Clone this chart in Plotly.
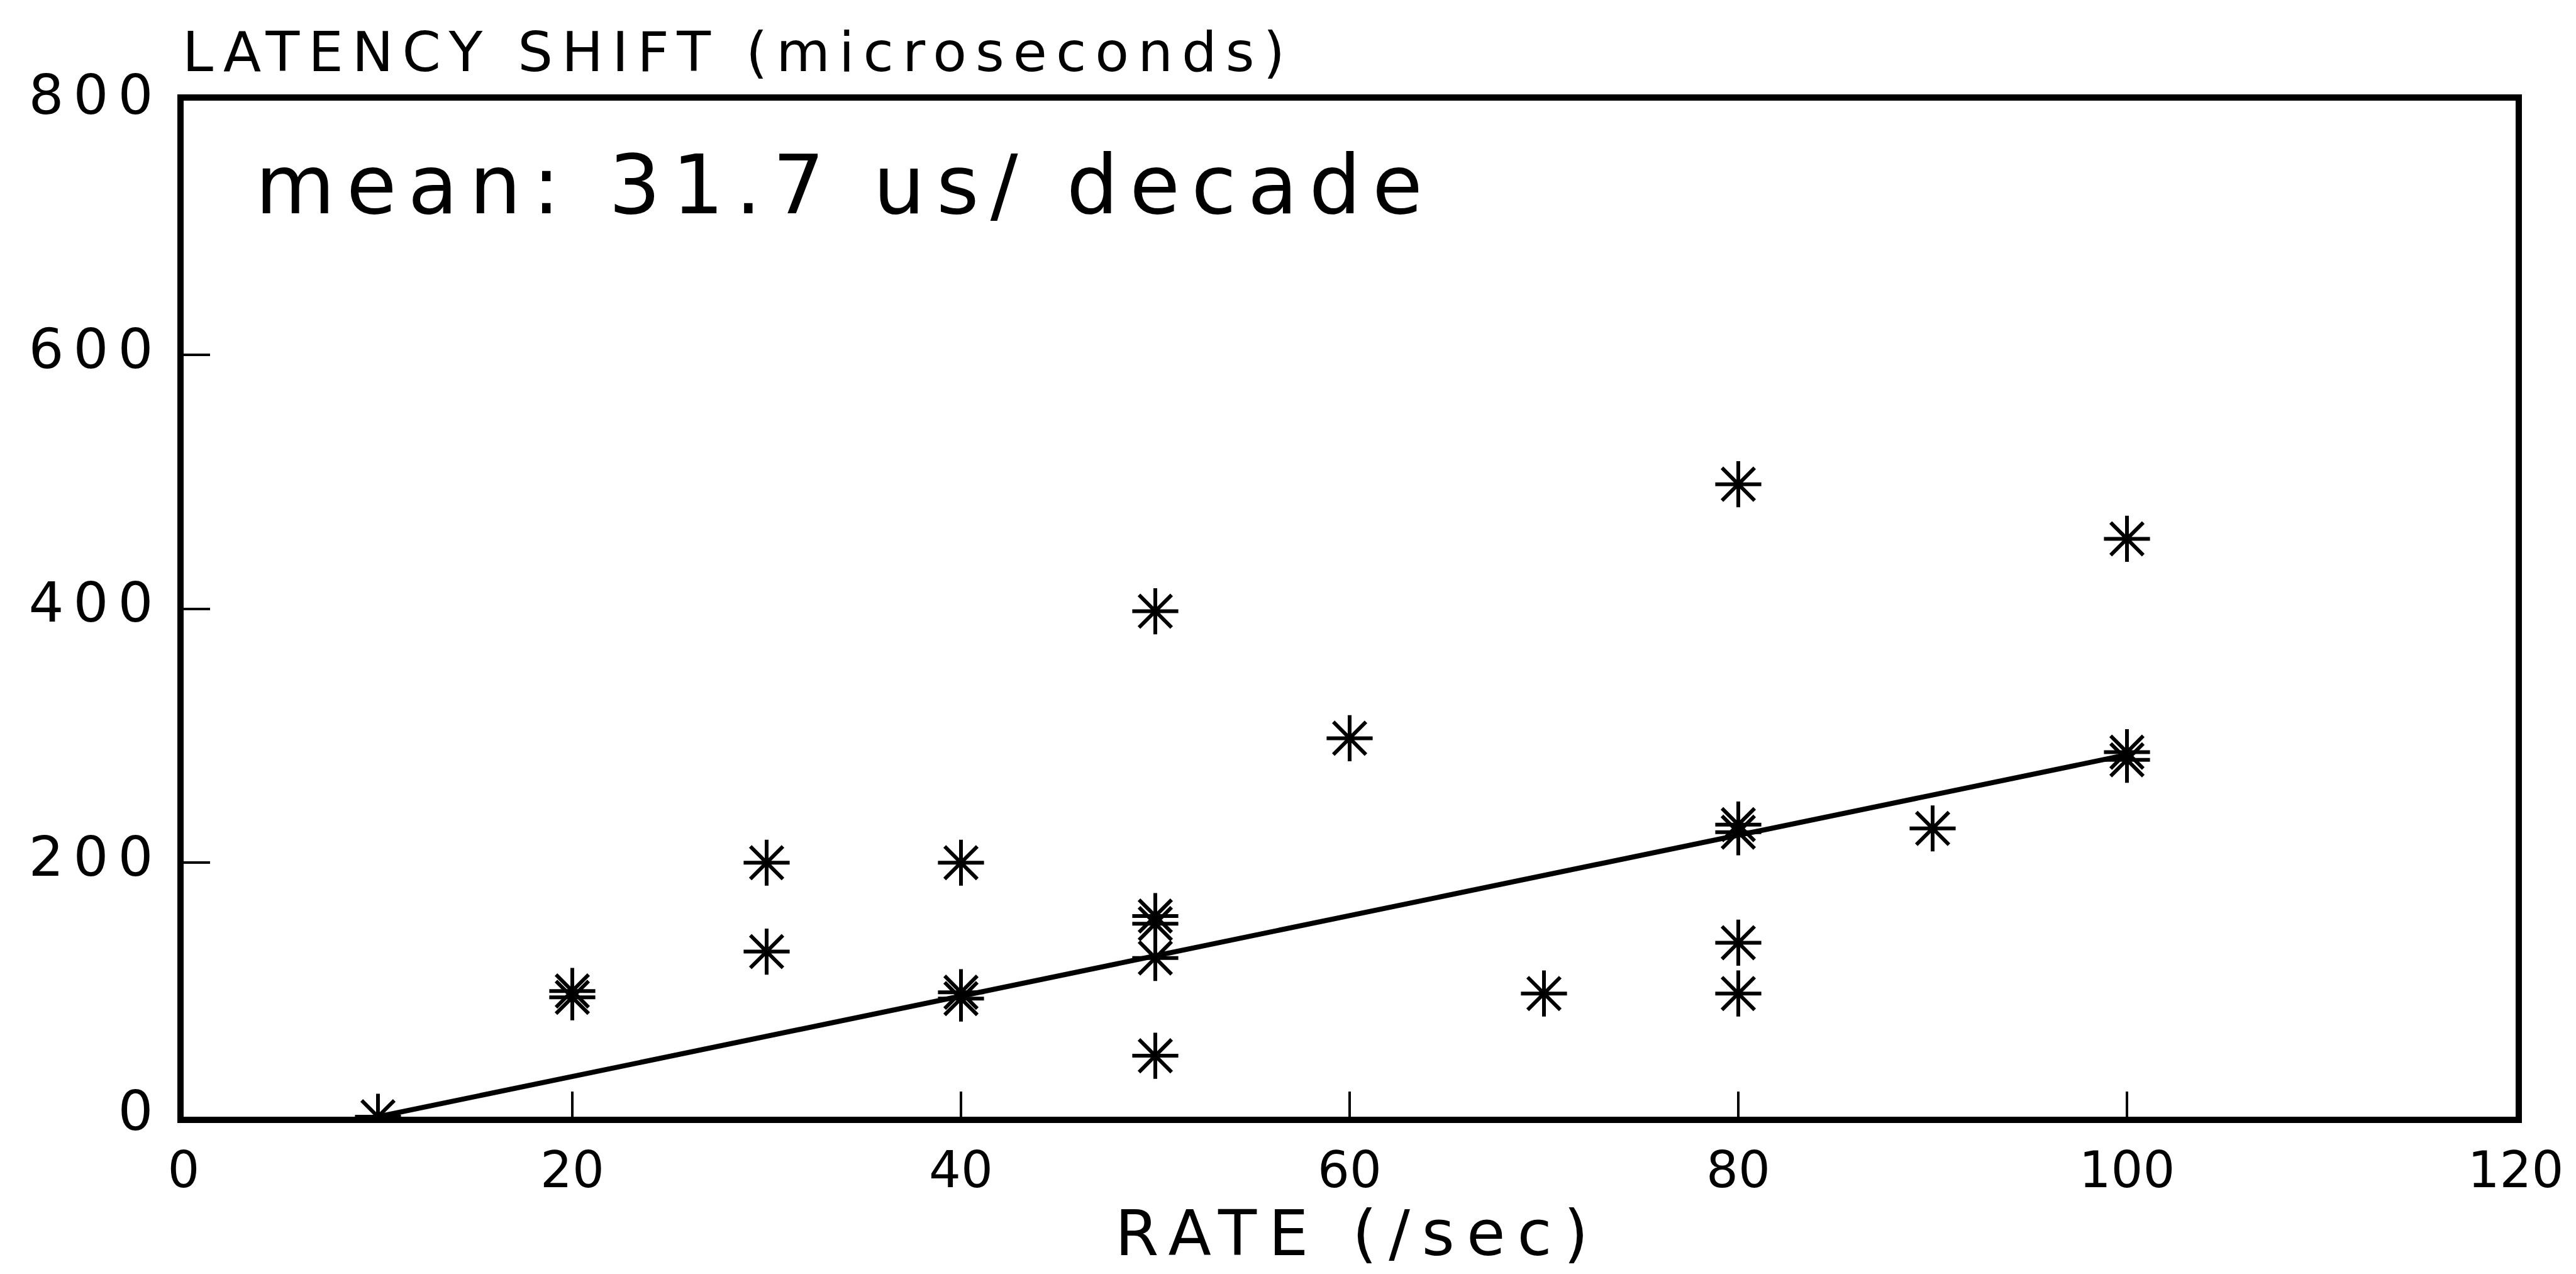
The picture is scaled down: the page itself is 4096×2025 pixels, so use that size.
import plotly.graph_objects as go

# ---- data ----
rate = [10, 20, 20, 30, 30, 40, 40, 40, 50, 50, 50, 50, 50, 60, 70,
        80, 80, 80, 80, 80, 90, 100, 100, 100]
shift = [0, 94, 99, 200, 130, 200, 93, 98, 398, 152, 158, 125, 48, 298, 97,
         498, 224, 230, 137, 97, 227, 455, 281, 287]

fit_rate = [10, 100]
fit_shift = [0, 285]

x_ticks = [0, 20, 40, 60, 80, 100, 120]
y_ticks = [0, 200, 400, 600, 800]

y_title = "LATENCY SHIFT (microseconds)"
x_title = "RATE (/sec)"
note = "mean: 31.7 us/ decade"

FONT = "DejaVu Sans"
W, H = 4096, 2025
L, R, T, B = 292, 96, 160, 250
PW = W - L - R
PH = H - T - B


def px_x(p):
    return (p - L) / PW


def px_y(p):
    return (H - B - p) / PH


def spaced(text, sp):
    return f'<span style="letter-spacing:{sp}px">{text}</span>'


fig = go.Figure()

fig.add_trace(go.Scatter(
    x=fit_rate, y=fit_shift, mode="lines",
    line=dict(color="black", width=8),
    showlegend=False, hoverinfo="skip"))

fig.add_trace(go.Scatter(
    x=rate, y=shift, mode="markers",
    marker=dict(symbol="asterisk-open", size=61, color="black",
                line=dict(color="black", width=6)),
    showlegend=False))

fig.update_layout(
    width=W, height=H, autosize=False,
    margin=dict(l=L, r=R, t=T, b=B, pad=0),
    paper_bgcolor="white", plot_bgcolor="white",
    font=dict(family=FONT, color="black"),
    xaxis=dict(
        range=[0, 120], tickmode="array", tickvals=x_ticks,
        ticktext=[str(v) for v in x_ticks],
        ticks="inside", ticklen=40, tickwidth=4, tickcolor="black",
        showline=True, linewidth=10, linecolor="black", mirror=True,
        showgrid=False, zeroline=False,
        tickfont=dict(family=FONT, size=80, color="black"),
        ticklabelstandoff=6,
    ),
    yaxis=dict(
        range=[0, 800], tickmode="array", tickvals=y_ticks,
        ticktext=[spaced(str(v), 15) for v in y_ticks],
        ticks="inside", ticklen=42, tickwidth=4, tickcolor="black",
        showline=True, linewidth=10, linecolor="black", mirror=True,
        showgrid=False, zeroline=False,
        tickfont=dict(family=FONT, size=88, color="black"),
        ticklabelstandoff=6, ticklabelshift=-10,
    ),
    annotations=[
        dict(text=spaced(y_title, 14), xref="paper", yref="paper",
             x=px_x(288), y=px_y(83), xanchor="left", yanchor="middle",
             showarrow=False, font=dict(family=FONT, size=88, color="black")),
        dict(text=spaced(note, 18), xref="paper", yref="paper",
             x=px_x(404), y=px_y(294), xanchor="left", yanchor="middle",
             showarrow=False, font=dict(family=FONT, size=130, color="black")),
        dict(text=spaced(x_title, 19), xref="paper", yref="paper",
             x=px_x(2158), y=px_y(1960), xanchor="center", yanchor="middle",
             showarrow=False, font=dict(family=FONT, size=100, color="black")),
    ],
)

fig.write_html("out.html")
